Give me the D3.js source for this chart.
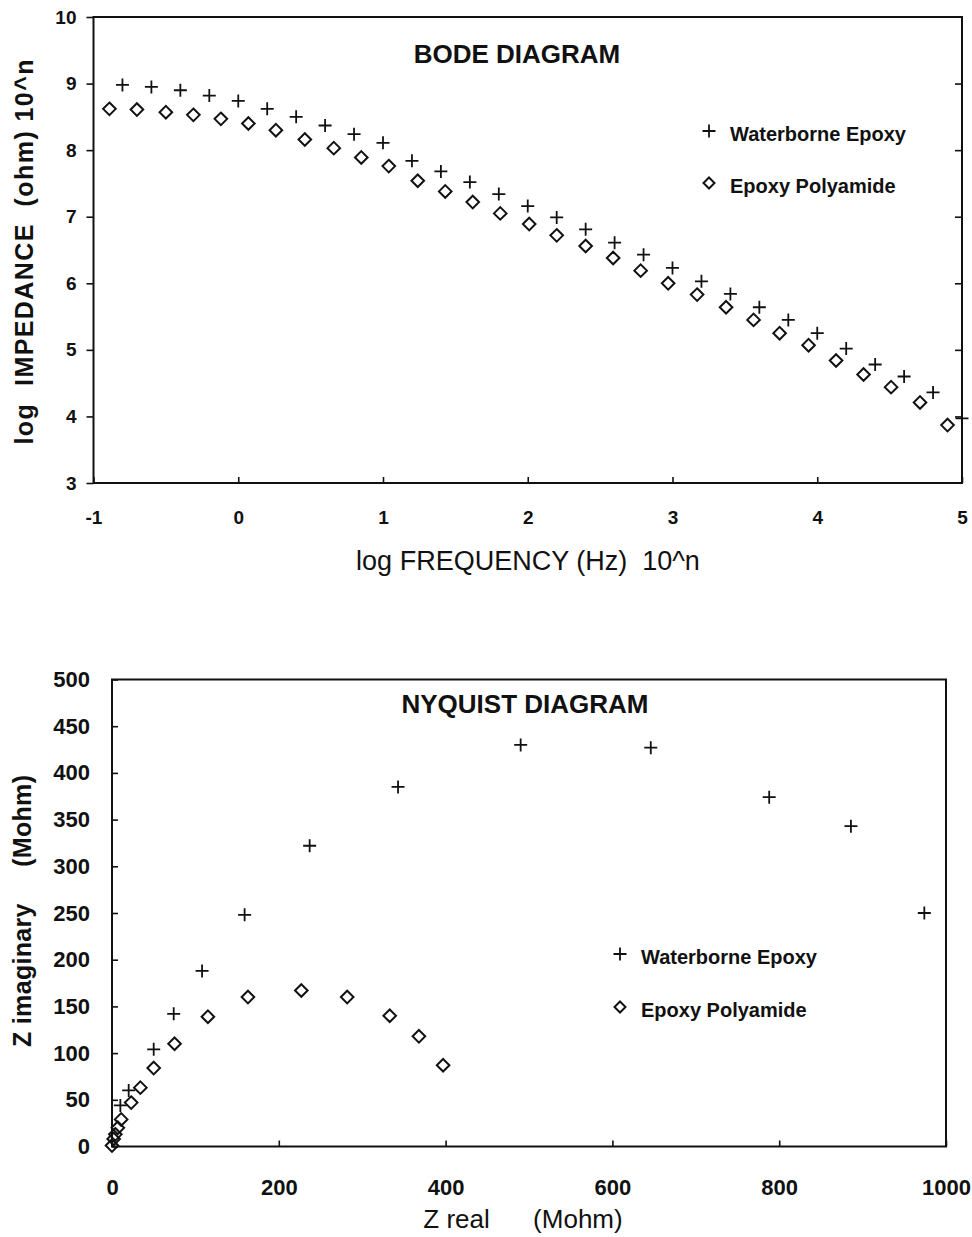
<!DOCTYPE html>
<html>
<head>
<meta charset="utf-8">
<script src="https://cdn.jsdelivr.net/npm/d3@7"></script>
<style>
body { margin: 0; background: #fff; }
svg { display: block; font-family: "Liberation Sans", Arial, Helvetica, sans-serif; }
text { white-space: pre; fill: #111; }
</style>
</head>
<body>
<script>
// Bode diagram values (log f, log |Z|)
var bodeWaterFreq = [-0.8, -0.6, -0.4, -0.2, 0.0, 0.2, 0.4, 0.6, 0.8, 1.0,
                     1.2, 1.4, 1.6, 1.8, 2.0, 2.2, 2.4, 2.6, 2.8, 3.0,
                     3.2, 3.4, 3.6, 3.8, 4.0, 4.2, 4.4, 4.6, 4.8, 5.0];
var bodeWaterZ = [8.98, 8.95, 8.90, 8.82, 8.74, 8.62, 8.50, 8.37, 8.24, 8.11,
                  7.84, 7.68, 7.52, 7.34, 7.16, 6.99, 6.81, 6.61, 6.43, 6.23,
                  6.03, 5.84, 5.64, 5.45, 5.25, 5.02, 4.78, 4.60, 4.36, 3.97];
var bodePolyFreq = [-0.89, -0.70, -0.50, -0.31, -0.12, 0.07, 0.26, 0.46, 0.66, 0.85,
                    1.04, 1.24, 1.43, 1.62, 1.81, 2.01, 2.20, 2.40, 2.59, 2.78,
                    2.97, 3.17, 3.37, 3.56, 3.74, 3.94, 4.13, 4.32, 4.51, 4.71, 4.90];
var bodePolyZ = [8.62, 8.61, 8.57, 8.53, 8.47, 8.40, 8.30, 8.16, 8.03, 7.89,
                 7.76, 7.54, 7.38, 7.22, 7.05, 6.89, 6.72, 6.56, 6.38, 6.19,
                 6.00, 5.83, 5.64, 5.45, 5.25, 5.07, 4.84, 4.63, 4.44, 4.21, 3.87];
var bodeXTicks = [-1, 0, 1, 2, 3, 4, 5];
var bodeYTicks = [3, 4, 5, 6, 7, 8, 9, 10];

// Nyquist diagram values (Mohm)
var nyqWaterReal = [10, 20, 50, 74, 108, 159, 237, 343, 490, 646, 788, 886, 974];
var nyqWaterImag = [44, 60, 104, 142, 188, 248, 322, 385, 430, 427, 374, 343, 250];
var nyqPolyReal = [0, 2, 4, 7, 11, 23, 34, 50, 75, 115, 163, 227, 282, 333, 368, 397];
var nyqPolyImag = [1, 8, 13, 20, 29, 47, 63, 84, 110, 139, 160, 167, 160, 140, 118, 87];
var nyqXTicks = [0, 200, 400, 600, 800, 1000];
var nyqYTicks = [0, 50, 100, 150, 200, 250, 300, 350, 400, 450, 500];

var seriesNames = ["Waterborne Epoxy", "Epoxy Polyamide"];

var ink = "#111";

function plusPath(r) {
    return "M" + (-r) + ",0H" + r + "M0," + (-r) + "V" + r;
}
function diamondPath(r) {
    return "M0," + (-r) + "L" + r + ",0L0," + r + "L" + (-r) + ",0Z";
}

var svg = d3.select("body")
    .append("svg")
    .attr("width", 972)
    .attr("height", 1237);

function styleAxis(g, size, bold) {
    g.select(".domain").remove();
    g.selectAll(".tick line").attr("stroke", ink).attr("stroke-width", 1.6);
    g.selectAll(".tick text")
        .attr("fill", ink)
        .style("font-size", size + "px")
        .style("font-weight", bold ? "bold" : "normal")
        .style("font-family", '"Liberation Sans", Arial, sans-serif');
}

function drawMarkers(g, xs, ys, sx, sy, kind) {
    g.selectAll("path." + kind)
        .data(d3.zip(xs, ys))
        .join("path")
        .attr("class", kind)
        .attr("d", kind == "plus" ? plusPath(6.5) : diamondPath(6.3))
        .attr("transform", function(d){ return "translate(" + sx(d[0]) + "," + sy(d[1]) + ")"; })
        .attr("fill", "none")
        .attr("stroke", ink)
        .attr("stroke-width", kind == "plus" ? 1.8 : 2);
}

function drawLegend(g, x, y0, y1) {
    g.append("path").attr("d", plusPath(6.5))
        .attr("transform", "translate(" + x + "," + y0 + ")")
        .attr("fill", "none").attr("stroke", ink).attr("stroke-width", 1.8);
    g.append("path").attr("d", diamondPath(5.5))
        .attr("transform", "translate(" + x + "," + y1 + ")")
        .attr("fill", "none").attr("stroke", ink).attr("stroke-width", 2);
    g.append("text").attr("x", x + 21).attr("y", y0 + 10)
        .style("font-size", "20px").style("font-weight", "bold")
        .text(seriesNames[0]);
    g.append("text").attr("x", x + 21).attr("y", y1 + 10)
        .style("font-size", "20px").style("font-weight", "bold")
        .text(seriesNames[1]);
}

// ---------- BODE ----------
var bx = d3.scaleLinear().domain([-1, 5]).range([93.5, 962]);
var by = d3.scaleLinear().domain([3, 10]).range([483, 17]);
var bode = svg.append("g");

bode.append("g")
    .attr("transform", "translate(" + bx(-1) + ",0)")
    .call(d3.axisLeft(by).tickValues(bodeYTicks).tickSizeInner(7).tickSizeOuter(0)
        .tickPadding(10).tickFormat(String))
    .call(styleAxis, 19, true);

bode.append("g")
    .attr("transform", "translate(" + bx(5) + ",0)")
    .call(d3.axisRight(by).tickValues(bodeYTicks.slice(1, -1)).tickSizeInner(-7).tickSizeOuter(0)
        .tickFormat(""))
    .call(styleAxis, 19, true);

bode.append("g")
    .attr("transform", "translate(0," + by(3) + ")")
    .call(d3.axisBottom(bx).tickValues(bodeXTicks).tickSizeInner(-6).tickSizeOuter(0)
        .tickPadding(28).tickFormat(String))
    .call(styleAxis, 19, true);

bode.append("rect")
    .attr("x", bx(-1)).attr("y", by(10))
    .attr("width", bx(5) - bx(-1)).attr("height", by(3) - by(10))
    .attr("fill", "none").attr("stroke", ink).attr("stroke-width", 2);

drawMarkers(bode, bodeWaterFreq, bodeWaterZ, bx, by, "plus");
drawMarkers(bode, bodePolyFreq, bodePolyZ, bx, by, "diamond");

bode.append("text")
    .attr("x", 517).attr("y", 63)
    .attr("text-anchor", "middle")
    .style("font-size", "26px").style("font-weight", "bold")
    .text("BODE DIAGRAM");

drawLegend(bode, 709, 131, 183);

bode.append("text")
    .attr("x", 528).attr("y", 570)
    .attr("text-anchor", "middle")
    .style("font-size", "27px")
    .text("log FREQUENCY (Hz)  10^n");

bode.append("text")
    .attr("transform", "translate(33,252) rotate(-90)")
    .attr("text-anchor", "middle")
    .attr("textLength", 385)
    .attr("lengthAdjust", "spacing")
    .style("font-size", "25px").style("font-weight", "bold")
    .text("log  IMPEDANCE  (ohm) 10^n");

// ---------- NYQUIST ----------
var nx = d3.scaleLinear().domain([0, 1000]).range([112, 946]);
var ny = d3.scaleLinear().domain([0, 500]).range([1146.5, 679.5]);
var nyq = svg.append("g");

nyq.append("g")
    .attr("transform", "translate(" + nx(0) + ",0)")
    .call(d3.axisLeft(ny).tickValues(nyqYTicks).tickSizeInner(-6).tickSizeOuter(0)
        .tickPadding(22).tickFormat(String))
    .call(styleAxis, 22, true);

nyq.append("g")
    .attr("transform", "translate(0," + ny(0) + ")")
    .call(d3.axisBottom(nx).tickValues(nyqXTicks).tickSizeInner(-6).tickSizeOuter(0)
        .tickPadding(33).tickFormat(String))
    .call(styleAxis, 22, true);

nyq.append("rect")
    .attr("x", nx(0)).attr("y", ny(500))
    .attr("width", nx(1000) - nx(0)).attr("height", ny(0) - ny(500))
    .attr("fill", "none").attr("stroke", ink).attr("stroke-width", 2);

drawMarkers(nyq, nyqWaterReal, nyqWaterImag, nx, ny, "plus");
drawMarkers(nyq, nyqPolyReal, nyqPolyImag, nx, ny, "diamond");

nyq.append("text")
    .attr("x", 525).attr("y", 713)
    .attr("text-anchor", "middle")
    .style("font-size", "26px").style("font-weight", "bold")
    .text("NYQUIST DIAGRAM");

drawLegend(nyq, 620, 954, 1007);

nyq.append("text")
    .attr("x", 523).attr("y", 1228)
    .attr("text-anchor", "middle")
    .style("font-size", "26px")
    .text("Z real      (Mohm)");

nyq.append("text")
    .attr("transform", "translate(31,911) rotate(-90)")
    .attr("text-anchor", "middle")
    .attr("textLength", 272)
    .attr("lengthAdjust", "spacing")
    .style("font-size", "25px").style("font-weight", "bold")
    .text("Z imaginary     (Mohm)");
</script>
</body>
</html>
